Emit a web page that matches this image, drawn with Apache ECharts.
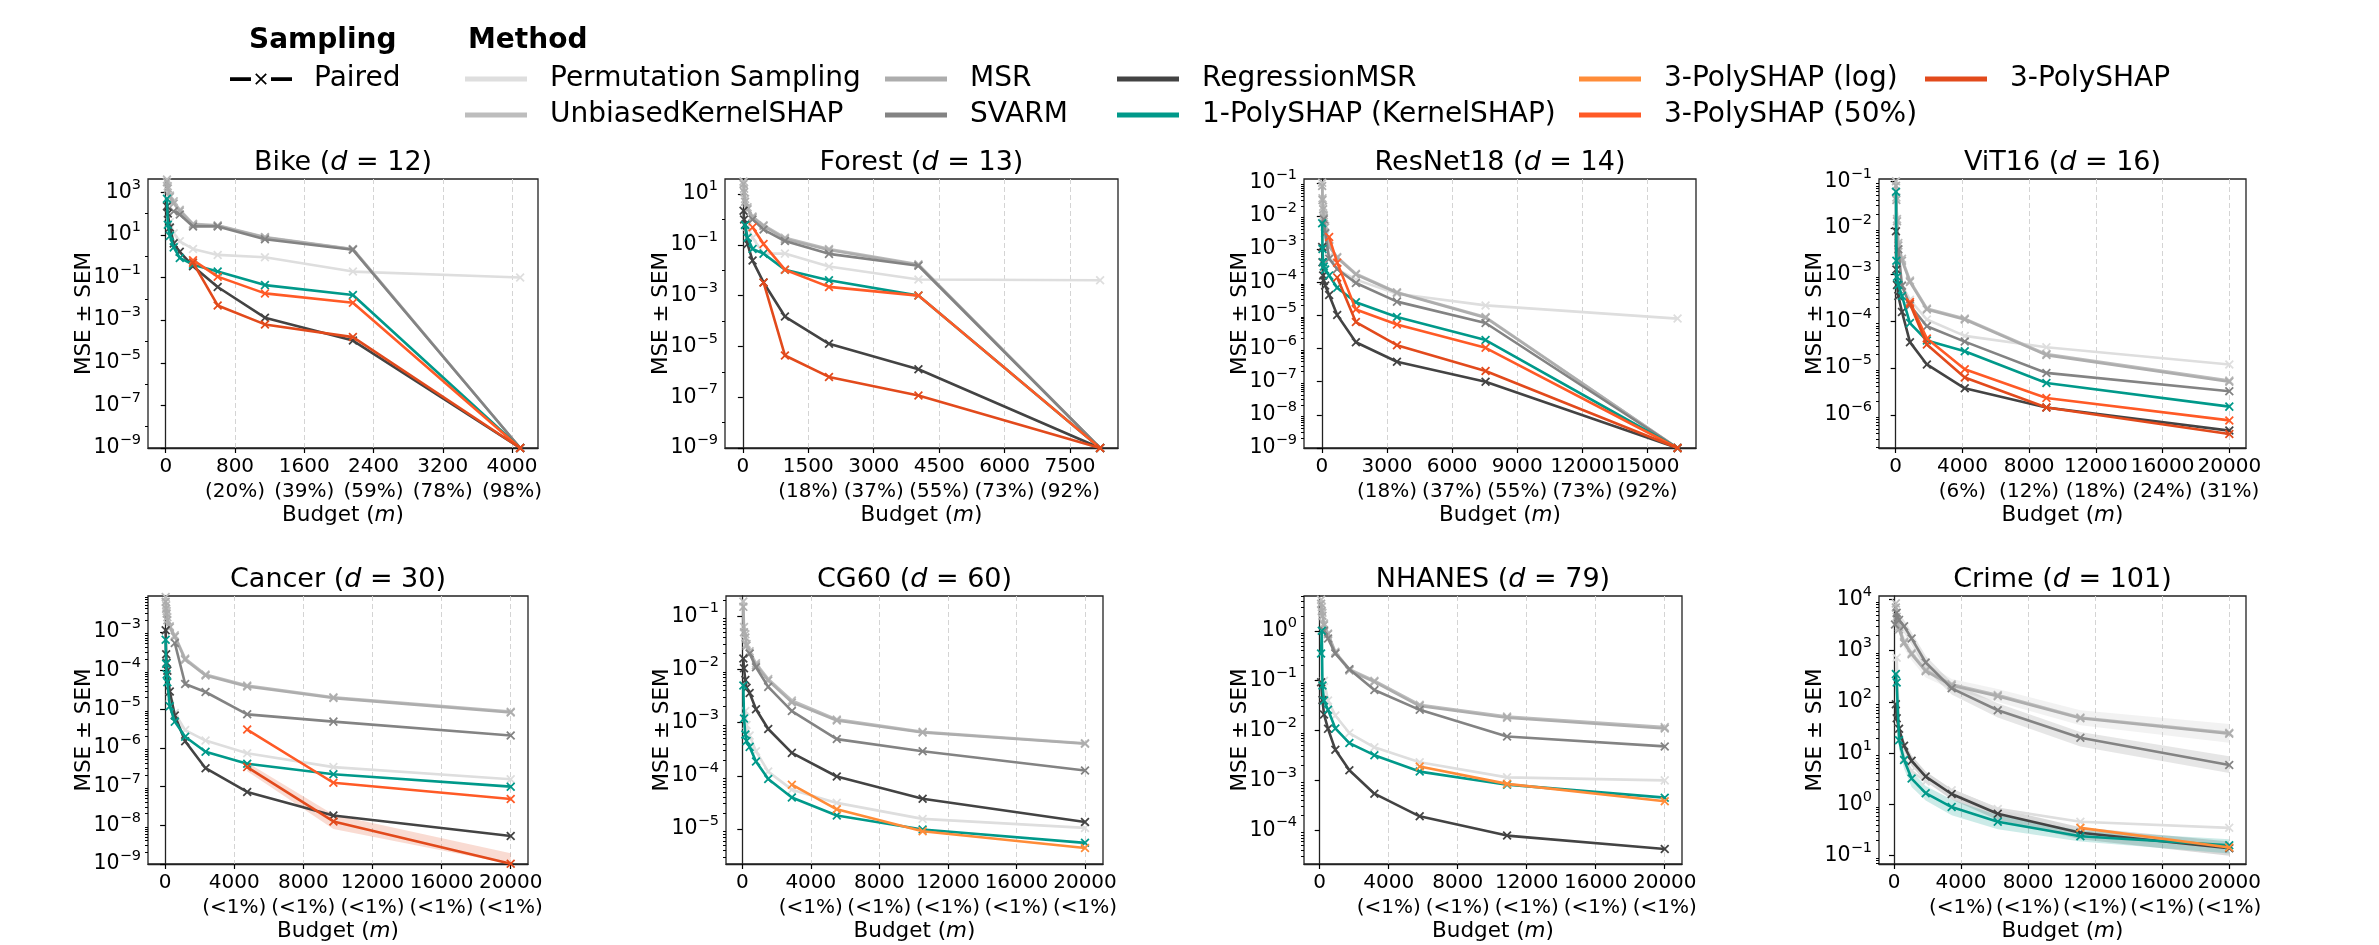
<!DOCTYPE html>
<html><head><meta charset="utf-8">
<script src="https://cdn.jsdelivr.net/npm/echarts@6/dist/echarts.min.js"></script>
<style>html,body{margin:0;padding:0;background:#fff}#c{width:2379px;height:945px}</style>
</head><body><div id="c"></div>
<script>
// ---------------- DATA ----------------
const methods = ['Permutation Sampling','UnbiasedKernelSHAP','MSR','SVARM','RegressionMSR','1-PolySHAP (KernelSHAP)','3-PolySHAP (log)','3-PolySHAP (50%)','3-PolySHAP'];

// Bike (d = 12)
const bikeBudget   = [14, 24, 48, 92, 162, 315, 600, 1146, 2162, 4094];
const bikePerm     = [null, null, 40, 12, 5, 2.2, 1.15, 0.9, 0.19, 0.1];
const bikeUKS      = [4000, 1900, 700, 380, 153, 33, 28, 8, 2.2, 1e-9];
const bikeMSR      = [3000, 1500, 600, 300, 130, 30, 27, 7.5, 2.1, 1e-9];
const bikeSVARM    = [null, null, null, 130, 90, 25, 25, 6.2, 2.0, 1e-9];
const bikeRegMSR   = [220, 100, 22, 4, 1.6, 0.34, 0.036, 0.0013, 1.1e-4, 1e-9];
const bikePoly1    = [500, 30, 9, 2.6, 0.83, 0.4, 0.19, 0.044, 0.015, 1e-9];
const bikePoly3log = [];
const bikePoly3half= [null, null, null, null, null, 0.65, 0.11, 0.018, 0.0065, 1e-9];
const bikePoly3    = [null, null, null, null, null, 0.5, 0.0049, 6.3e-4, 1.6e-4, 1e-9];
const bikeXTicks = [0, 800, 1600, 2400, 3200, 4000];
const bikeXPct   = ['', '20%', '39%', '59%', '78%', '98%'];
const bikeYTicks = [1e3, 1e1, 1e-1, 1e-3, 1e-5, 1e-7, 1e-9];

// Forest (d = 13)
const forestBudget   = [15, 28, 50, 107, 222, 474, 964, 1974, 4025, 8190];
const forestPerm     = [null, null, null, 0.5, 0.19, 0.045, 0.045, 0.014, 0.0043, 0.004];
const forestUKS      = [31, 16, 6.4, 3, 1.3, 0.59, 0.19, 0.068, 0.017, 1e-9];
const forestMSR      = [25, 12, 5, 2.5, 1.2, 0.55, 0.17, 0.062, 0.016, 1e-9];
const forestSVARM    = [null, null, null, null, 1.0, 0.4, 0.14, 0.044, 0.015, 1e-9];
const forestRegMSR   = [2.2, 1.0, 0.62, 0.107, 0.024, 0.0033, 1.5e-4, 1.26e-5, 1.26e-6, 1e-9];
const forestPoly1    = [null, null, 0.6, 0.19, 0.068, 0.045, 0.0105, 0.004, 0.001, 1e-9];
const forestPoly3log = [];
const forestPoly3half= [null, null, null, null, 0.49, 0.107, 0.0105, 0.0022, 0.001, 1e-9];
const forestPoly3    = [null, null, null, null, null, 0.0033, 4.4e-6, 6.3e-7, 1.17e-7, 1e-9];
const forestXTicks = [0, 1500, 3000, 4500, 6000, 7500];
const forestXPct   = ['', '18%', '37%', '55%', '73%', '92%'];
const forestYTicks = [1e1, 1e-1, 1e-3, 1e-5, 1e-7, 1e-9];

// ResNet18 (d = 14)
const resBudget   = [16, 32, 62, 92, 154, 338, 708, 1569, 3460, 7540, 16382];
const resPerm     = [null, null, null, null, 0.0025, 6e-4, 2.5e-4, 1.2e-4, 4.5e-5, 2e-5, 8e-6];
const resUKS      = [0.1, 0.034, 0.019, 0.0105, 0.005, 0.00125, 5.8e-4, 1.8e-4, 5e-5, 8.9e-6, 1e-9];
const resMSR      = [0.08, 0.03, 0.016, 0.009, 0.0045, 0.0012, 5.5e-4, 1.7e-4, 4.8e-5, 8.5e-6, 1e-9];
const resSVARM    = [null, null, null, 0.008, 0.003, 5.1e-4, 2.5e-4, 9.5e-5, 2.6e-5, 5.9e-6, 1e-9];
const resRegMSR   = [1.15e-3, 4e-4, 1.6e-4, 1.1e-4, 8e-5, 4.1e-5, 1.02e-5, 1.55e-6, 4e-7, 1e-7, 1e-9];
const resPoly1    = [0.006, 1e-3, 4e-4, 3e-4, 2.4e-4, 1.6e-4, 6.8e-5, 2.5e-5, 9e-6, 1.8e-6, 1e-9];
const resPoly3log = [];
const resPoly3half= [null, null, null, null, null, 2.3e-3, 3.9e-4, 1.5e-5, 5.3e-6, 1.05e-6, 1e-9];
const resPoly3    = [null, null, null, null, null, null, 1.4e-4, 6.3e-6, 1.26e-6, 2.1e-7, 1e-9];
const resXTicks = [0, 3000, 6000, 9000, 12000, 15000];
const resXPct   = ['', '18%', '37%', '55%', '73%', '92%'];
const resYTicks = [1e-1, 1e-2, 1e-3, 1e-4, 1e-5, 1e-6, 1e-7, 1e-8, 1e-9];

// ViT16 (d = 16)
const vitBudget   = [18, 40, 80, 160, 378, 856, 1870, 4140, 9035, 20000];
const vitPerm     = [null, null, null, null, 6e-4, 2.9e-4, 1.1e-4, 4.9e-5, 2.8e-5, 1.2e-5];
const vitUKS      = [0.1, 0.045, 0.0155, 0.0048, 2.2e-3, 7.5e-4, 1.9e-4, 1.15e-4, 2e-5, 5.4e-6];
const vitMSR      = [0.08, 0.04, 0.014, 0.0042, 2.0e-3, 7e-4, 1.8e-4, 1.1e-4, 1.9e-5, 5.1e-6];
const vitSVARM    = [null, null, null, 3.5e-3, 5.8e-4, 2.2e-4, 7.9e-5, 3.7e-5, 7.9e-6, 3.2e-6];
const vitRegMSR   = [0.0085, 1.3e-3, 6e-4, 3.5e-4, 1.6e-4, 3.6e-5, 1.2e-5, 3.7e-6, 1.44e-6, 4.6e-7];
const vitPoly1    = [0.06, 2e-3, 9e-4, 6e-4, 3.5e-4, 9.2e-5, 3.9e-5, 2.3e-5, 4.8e-6, 1.5e-6];
const vitPoly3log = [];
const vitPoly3half= [null, null, null, null, null, 2.6e-4, 4.3e-5, 9.5e-6, 2.3e-6, 7.6e-7];
const vitPoly3    = [null, null, null, null, null, 2.4e-4, 3.2e-5, 6.3e-6, 1.44e-6, 3.9e-7];
const vitXTicks = [0, 4000, 8000, 12000, 16000, 20000];
const vitXPct   = ['', '6%', '12%', '18%', '24%', '31%'];
const vitYTicks = [1e-1, 1e-2, 1e-3, 1e-4, 1e-5, 1e-6];

// Cancer (d = 30)
const cancerBudget   = [32, 60, 90, 130, 270, 560, 1160, 2340, 4750, 9740, 20000];
const cancerPerm     = [null, null, null, null, 2e-5, 8e-6, 2.9e-6, 1.55e-6, 7.3e-7, 3.2e-7, 1.55e-7];
const cancerUKS      = [8e-3, 4.9e-3, 3.5e-3, 2.4e-3, 1.4e-3, 8.2e-4, 2.05e-4, 7.9e-5, 4.1e-5, 2.04e-5, 8.7e-6];
const cancerMSR      = [6e-3, 4e-3, 3e-3, 2e-3, 1.3e-3, 7.5e-4, 1.9e-4, 7.5e-5, 3.9e-5, 1.95e-5, 8.3e-6];
const cancerSVARM    = [null, null, null, null, null, 5.2e-4, 4.5e-5, 2.8e-5, 7.4e-6, 4.8e-6, 2.1e-6];
const cancerRegMSR   = [1.1e-3, 2.65e-4, 1.6e-4, 1e-4, 2.9e-5, 6.9e-6, 1.5e-6, 3e-7, 7.3e-8, 1.8e-8, 5.3e-9];
const cancerPoly1    = [6.3e-4, 1.5e-4, 8e-5, 5e-5, 1.2e-5, 4.8e-6, 1.95e-6, 8e-7, 3.9e-7, 2.1e-7, 1e-7];
const cancerPoly3log = [];
const cancerPoly3half= [null, null, null, null, null, null, null, null, 3e-6, 1.26e-7, 4.8e-8];
const cancerPoly3    = [null, null, null, null, null, null, null, null, 3.2e-7, 1.26e-8, 1.02e-9];
const cancerPoly3Lo  = [null, null, null, null, null, null, null, null, 2.5e-7, 8e-9, 1e-9];
const cancerPoly3Hi  = [null, null, null, null, null, null, null, null, 4.2e-7, 1.9e-8, 1.9e-9];
const cancerYTicks = [1e-3, 1e-4, 1e-5, 1e-6, 1e-7, 1e-8, 1e-9];

// CG60 (d = 60)
const cgBudget   = [62, 100, 180, 250, 430, 800, 1515, 2893, 5515, 10524, 20000];
const cgPerm     = [null, null, 1.65e-3, 9e-4, 5.7e-4, 2.9e-4, 1.2e-4, 5.5e-5, 3.1e-5, 1.55e-5, 1.05e-5];
const cgUKS      = [0.19, 0.063, 0.046, 0.03, 0.022, 0.013, 6.6e-3, 2.6e-3, 1.15e-3, 6.7e-4, 4.1e-4];
const cgMSR      = [0.15, 0.05, 0.04, 0.028, 0.02, 0.012, 6.2e-3, 2.4e-3, 1.1e-3, 6.5e-4, 4e-4];
const cgSVARM    = [null, null, null, null, 0.02, 0.011, 4.7e-3, 1.65e-3, 4.9e-4, 2.9e-4, 1.26e-4];
const cgRegMSR   = [0.016, 0.0105, 6.3e-3, 4.5e-3, 3.6e-3, 1.78e-3, 7.6e-4, 2.7e-4, 9.7e-5, 3.7e-5, 1.35e-5];
const cgPoly1    = [5e-3, 1.2e-3, 6e-4, 4.5e-4, 3.5e-4, 1.85e-4, 8.7e-5, 3.9e-5, 1.8e-5, 9.8e-6, 5.5e-6];
const cgPoly3log = [null, null, null, null, null, null, null, 6.8e-5, 2.35e-5, 9.1e-6, 4.4e-6];
const cgPoly3half= [];
const cgPoly3    = [];
const cgYTicks = [1e-1, 1e-2, 1e-3, 1e-4, 1e-5];

// NHANES (d = 79)
const nhBudget   = [80, 120, 160, 250, 483, 908, 1720, 3169, 5797, 10860, 20000];
const nhPerm     = [null, null, null, 0.1, 0.04, 0.02, 0.0089, 0.0046, 0.0023, 0.00115, 0.001];
const nhUKS      = [4.2, 3, 2.3, 1.4, 0.88, 0.38, 0.17, 0.1, 0.033, 0.019, 0.0117];
const nhMSR      = [3.5, 2.5, 2, 1.3, 0.85, 0.36, 0.16, 0.095, 0.031, 0.018, 0.011];
const nhSVARM    = [null, null, null, 1.0, 0.7, 0.35, 0.17, 0.065, 0.026, 0.0076, 0.0048];
const nhRegMSR   = [0.093, null, 0.041, 0.021, 0.0108, 0.0041, 0.0016, 5.4e-4, 1.9e-4, 7.8e-5, 4.2e-5];
const nhPoly1    = [0.35, 1.0, 0.08, 0.04, 0.026, 0.011, 0.0056, 0.0032, 0.0015, 8.2e-4, 4.5e-4];
const nhPoly3log = [null, null, null, null, null, null, null, null, 0.0019, 8.5e-4, 3.8e-4];
const nhPoly3half= [];
const nhPoly3    = [];
const nhYTicks = [1e0, 1e-1, 1e-2, 1e-3, 1e-4];

// Crime (d = 101)
const crimeBudget   = [60, 110, 160, 300, 600, 1050, 1890, 3440, 6190, 11120, 20000];
const crimePerm     = [null, null, 730, 30, 8, 4.5, 2.8, 1.9, 0.82, 0.46, 0.35];
const crimeUKS      = [null, 8400, 4600, 2900, 1500, 900, 420, 223, 137, 50, 25];
const crimeMSR      = [null, 7000, 4000, 2600, 1400, 850, 400, 210, 130, 48, 24];
const crimeSVARM    = [3250, null, 5500, 4000, 3000, 1740, 590, 185, 69, 20, 5.9];
const crimeRegMSR   = [null, 90, 48, 30, 14, 7.1, 3.5, 1.6, 0.66, 0.28, 0.14];
const crimePoly1    = [null, 350, 240, 18, 7.4, 3.2, 1.66, 0.89, 0.46, 0.24, 0.16];
const crimePoly3log = [null, null, null, null, null, null, null, null, null, 0.35, 0.145];
const crimePoly3half= [];
const crimePoly3    = [];
const crimeUKSLo    = [null, 6000, 3500, 2200, 1100, 650, 300, 175, 100, 35, 16];
const crimeUKSHi    = [null, 11000, 6000, 3800, 2000, 1200, 580, 280, 180, 69, 37];
const crimeSVARMLo  = [2500, null, 4000, 3000, 2200, 1300, 430, 140, 50, 13.5, 4.1];
const crimeSVARMHi  = [4200, null, 7500, 5300, 4000, 2300, 800, 240, 95, 26, 8.7];
const crimeRegLo    = [null, 70, 38, 24, 11, 5.6, 2.8, 1.25, 0.5, 0.21, 0.1];
const crimeRegHi    = [null, 115, 60, 38, 18, 9, 4.4, 2.0, 0.85, 0.36, 0.19];
const crimePoly1Lo  = [null, 250, 170, 12, 5, 2.2, 1.2, 0.62, 0.33, 0.19, 0.11];
const crimePoly1Hi  = [null, 480, 330, 26, 10.5, 4.5, 2.3, 1.25, 0.62, 0.31, 0.21];
const crimeYTicks = [1e4, 1e3, 1e2, 1e1, 1e0, 1e-1];

const bigXTicks = [0, 4000, 8000, 12000, 16000, 20000];
const bigXPct   = ['', '<1%', '<1%', '<1%', '<1%', '<1%'];

// ---------------- STYLE / LAYOUT ----------------
const colors = ['#dedede','#bdbdbd','#adadad','#838383','#434343','#00998a','#ff8c38','#ff5a26','#e24a1c'];
const FONT = 'DejaVu Sans';

const panels = [
  {name:'Bike',     d:'12',  budget:bikeBudget,   vals:[bikePerm,bikeUKS,bikeMSR,bikeSVARM,bikeRegMSR,bikePoly1,bikePoly3log,bikePoly3half,bikePoly3], xTicks:bikeXTicks, xPct:bikeXPct, yTicks:bikeYTicks, bands:[]},
  {name:'Forest',   d:'13',  budget:forestBudget, vals:[forestPerm,forestUKS,forestMSR,forestSVARM,forestRegMSR,forestPoly1,forestPoly3log,forestPoly3half,forestPoly3], xTicks:forestXTicks, xPct:forestXPct, yTicks:forestYTicks, bands:[]},
  {name:'ResNet18', d:'14',  budget:resBudget,    vals:[resPerm,resUKS,resMSR,resSVARM,resRegMSR,resPoly1,resPoly3log,resPoly3half,resPoly3], xTicks:resXTicks, xPct:resXPct, yTicks:resYTicks, bands:[]},
  {name:'ViT16',    d:'16',  budget:vitBudget,    vals:[vitPerm,vitUKS,vitMSR,vitSVARM,vitRegMSR,vitPoly1,vitPoly3log,vitPoly3half,vitPoly3], xTicks:vitXTicks, xPct:vitXPct, yTicks:vitYTicks, bands:[]},
  {name:'Cancer',   d:'30',  budget:cancerBudget, vals:[cancerPerm,cancerUKS,cancerMSR,cancerSVARM,cancerRegMSR,cancerPoly1,cancerPoly3log,cancerPoly3half,cancerPoly3], xTicks:bigXTicks, xPct:bigXPct, yTicks:cancerYTicks,
     bands:[{m:8, lo:cancerPoly3Lo, hi:cancerPoly3Hi}]},
  {name:'CG60',     d:'60',  budget:cgBudget,     vals:[cgPerm,cgUKS,cgMSR,cgSVARM,cgRegMSR,cgPoly1,cgPoly3log,cgPoly3half,cgPoly3], xTicks:bigXTicks, xPct:bigXPct, yTicks:cgYTicks, bands:[]},
  {name:'NHANES',   d:'79',  budget:nhBudget,     vals:[nhPerm,nhUKS,nhMSR,nhSVARM,nhRegMSR,nhPoly1,nhPoly3log,nhPoly3half,nhPoly3], xTicks:bigXTicks, xPct:bigXPct, yTicks:nhYTicks, bands:[]},
  {name:'Crime',    d:'101', budget:crimeBudget,  vals:[crimePerm,crimeUKS,crimeMSR,crimeSVARM,crimeRegMSR,crimePoly1,crimePoly3log,crimePoly3half,crimePoly3], xTicks:bigXTicks, xPct:bigXPct, yTicks:crimeYTicks,
     bands:[{m:1, lo:crimeUKSLo, hi:crimeUKSHi}, {m:3, lo:crimeSVARMLo, hi:crimeSVARMHi}, {m:4, lo:crimeRegLo, hi:crimeRegHi}, {m:5, lo:crimePoly1Lo, hi:crimePoly1Hi}]}
];

const layout = [
  {left:148,  top:179, width:390, height:269, xMin:-205, xMax:4300,  yMin:1e-9,    yMax:4200,   sub:false},
  {left:725,  top:179, width:393, height:269, xMin:-410, xMax:8600,  yMin:1e-9,    yMax:39,     sub:false},
  {left:1304, top:179, width:392, height:269, xMin:-820, xMax:17230, yMin:1e-9,    yMax:0.13,   sub:true},
  {left:1879, top:179, width:367, height:269, xMin:-1000,xMax:21000, yMin:1.95e-7, yMax:0.112,  sub:true},
  {left:148,  top:596, width:380, height:268, xMin:-990, xMax:21000, yMin:1e-9,    yMax:8.5e-3, sub:true},
  {left:726,  top:596, width:377, height:268, xMin:-950, xMax:21050, yMin:2.2e-6,  yMax:0.24,   sub:true},
  {left:1304, top:596, width:378, height:268, xMin:-910, xMax:21000, yMin:2.1e-5,  yMax:5,      sub:true},
  {left:1879, top:596, width:367, height:268, xMin:-895, xMax:21000, yMin:0.069,   yMax:11700,  sub:true}
];

const xMark = 'path://M4.2,0H5.8V4.2H10V5.8H5.8V10H4.2V5.8H0V4.2H4.2Z';
const pairedIcon = 'path://M0,4.2H21V8H0Z M41,4.2H62V8H41Z M25.2,1.4L26.4,0.2L36.8,10.6L35.6,11.8Z M35.6,0.2L36.8,1.4L26.4,11.8L25.2,10.6Z';

function supLabel(v){
  const e = Math.round(Math.log10(v));
  return '{b|10}{s|' + (e < 0 ? '\u2212' + (-e) : String(e)) + '}';
}
function minorTicks(lo, hi, majors, withSubs){
  const out = [];
  const e0 = Math.floor(Math.log10(lo)) - 1, e1 = Math.ceil(Math.log10(hi)) + 1;
  for (let e = e0; e <= e1; e++) {
    const base = Math.pow(10, e);
    if (withSubs) { for (let k = 2; k <= 9; k++) { const v = k * base; if (v >= lo && v <= hi) out.push(v); } }
    if (base >= lo && base <= hi && !majors.some(m => Math.abs(Math.log10(m) - e) < 1e-9)) out.push(base);
  }
  return out;
}
function hexA(hex, a){
  const n = parseInt(hex.slice(1), 16);
  return 'rgba(' + ((n >> 16) & 255) + ',' + ((n >> 8) & 255) + ',' + (n & 255) + ',' + a + ')';
}

const grid = [], xAxis = [], yAxis = [], series = [], title = [];
const tickLine = {color:'#000', width:1.2};
const TICKF = 20;

panels.forEach((p, i) => {
  const L = layout[i];
  grid.push({left:L.left, top:L.top, width:L.width, height:L.height, show:true, borderColor:'#222', borderWidth:1.3, containLabel:false, outerBoundsMode:'none'});
  xAxis.push({
    type:'value', gridIndex:i, min:L.xMin, max:L.xMax,
    axisLine:{show:true, onZero:false, lineStyle:{color:'#222', width:1.3}},
    axisTick:{show:true, customValues:p.xTicks, length:5, lineStyle:tickLine},
    axisLabel:{show:true, customValues:p.xTicks, margin:6, fontSize:TICKF, lineHeight:25, fontFamily:FONT, color:'#000',
      showMinLabel:true, showMaxLabel:true, hideOverlap:false,
      formatter:(v) => { const k = p.xTicks.indexOf(v); return (k <= 0 || !p.xPct[k]) ? String(v) : v + '\n(' + p.xPct[k] + ')'; }},
    splitLine:{show:true, lineStyle:{color:'#d4d4d4', width:1, type:[5,3]}},
    name:'Budget ({i|m})', nameLocation:'middle', nameGap:56, nameMoveOverlap:false,
    nameTextStyle:{fontSize:21.5, fontFamily:FONT, color:'#000', rich:{i:{fontSize:21.5, fontFamily:FONT, fontStyle:'italic', color:'#000'}}}
  });
  yAxis.push({
    type:'log', logBase:10, gridIndex:i, min:L.yMin, max:L.yMax, position:'left',
    axisLine:{show:true, lineStyle:{color:'#222', width:1.3}},
    axisTick:{show:true, customValues:p.yTicks, length:5, lineStyle:tickLine},
    axisLabel:{show:true, customValues:p.yTicks, margin:7, formatter:supLabel, showMinLabel:true, showMaxLabel:true, hideOverlap:false,
      rich:{b:{fontSize:TICKF + 0.5, fontFamily:FONT, color:'#000', lineHeight:30, verticalAlign:'middle'},
            s:{fontSize:14.5, fontFamily:FONT, color:'#000', lineHeight:16, verticalAlign:'top'}}},
    splitLine:{show:false},
    name:'MSE \u00b1 SEM', nameLocation:'middle', nameGap:53, nameRotate:90, nameMoveOverlap:false,
    nameTextStyle:{fontSize:21.5, fontFamily:FONT, color:'#000'}
  });
  title.push({
    text:p.name + ' ({i|d} = ' + p.d + ')', left:L.left + L.width / 2, top:L.top - 30, textAlign:'center', padding:0,
    textStyle:{fontSize:27, fontWeight:'normal', fontFamily:FONT, color:'#000', rich:{i:{fontSize:27, fontFamily:FONT, fontStyle:'italic', color:'#000'}}}
  });
  // +- SEM bands
  p.bands.forEach(bd => {
    const pts = [];
    p.budget.forEach((b, k) => { if (bd.lo[k] != null && bd.hi[k] != null) pts.push([b, bd.lo[k], bd.hi[k]]); });
    series.push({
      type:'custom', xAxisIndex:i, yAxisIndex:i, data:pts, silent:true, z:1, clip:true,
      encode:{x:0, y:[1, 2]},
      renderItem:(params, api) => {
        if (params.dataIndex !== 0) return null;
        const up = pts.map(d => api.coord([d[0], d[2]]));
        const dn = pts.map(d => api.coord([d[0], d[1]])).reverse();
        return {type:'polygon', shape:{points:up.concat(dn)}, style:{fill:hexA(colors[bd.m], 0.2), stroke:null}};
      }
    });
  });
  p.vals.forEach((vals, m) => {
    const data = [];
    p.budget.forEach((b, k) => { if (vals[k] != null) data.push([b, vals[k]]); });
    series.push({
      type:'line', name:methods[m], xAxisIndex:i, yAxisIndex:i, data:data,
      symbol:xMark, symbolRotate:45, symbolSize:11, showSymbol:true, showAllSymbol:true,
      lineStyle:{width:2.6, color:colors[m]}, itemStyle:{color:colors[m]},
      z:2 + m, silent:true, animation:false, clip:true
    });
  });
});
// minor-tick overlay axes
panels.forEach((p, i) => {
  const L = layout[i];
  yAxis.push({
    type:'log', logBase:10, gridIndex:i, min:L.yMin, max:L.yMax, position:'left', offset:0,
    axisLine:{show:false}, axisLabel:{show:false}, splitLine:{show:false},
    axisTick:{show:true, customValues:minorTicks(L.yMin, L.yMax, p.yTicks, L.sub), length:3, lineStyle:{color:'#000', width:1}}
  });
});
// legend helper series
series.push({type:'line', name:'Paired', xAxisIndex:0, yAxisIndex:0, data:[], itemStyle:{color:'#000'}, lineStyle:{color:'#000'}, silent:true});

title.push({text:'Sampling', left:249, top:27, padding:0, textStyle:{fontSize:28, fontWeight:'bold', fontFamily:FONT, color:'#000'}});
title.push({text:'Method', left:468, top:27, padding:0, textStyle:{fontSize:28, fontWeight:'bold', fontFamily:FONT, color:'#000'}});

const legTxt = {fontSize:28, fontFamily:FONT, color:'#000', padding:[0,0,0,18]};
function methodLegend(names, left){
  return {data:names.map(n => ({name:n, icon:'rect'})), left:left, top:65, orient:'vertical', itemWidth:62, itemHeight:5, itemGap:8,
          padding:0, selectedMode:false, textStyle:legTxt};
}
const legend = [
  {data:[{name:'Paired', icon:pairedIcon}], left:230, top:65, orient:'vertical', itemWidth:62, itemHeight:12, padding:0, selectedMode:false,
   textStyle:{fontSize:28, fontFamily:FONT, color:'#000', padding:[0,0,0,17]}},
  methodLegend(['Permutation Sampling','UnbiasedKernelSHAP'], 465),
  methodLegend(['MSR','SVARM'], 885),
  methodLegend(['RegressionMSR','1-PolySHAP (KernelSHAP)'], 1117),
  methodLegend(['3-PolySHAP (log)','3-PolySHAP (50%)'], 1579),
  methodLegend(['3-PolySHAP'], 1925)
];

const chart = echarts.init(document.getElementById('c'), null, {renderer:'canvas', width:2379, height:945});
chart.setOption({
  animation:false, backgroundColor:'#fff',
  textStyle:{fontFamily:FONT},
  title:title, legend:legend, grid:grid, xAxis:xAxis, yAxis:yAxis, series:series
});
</script>
</body></html>
